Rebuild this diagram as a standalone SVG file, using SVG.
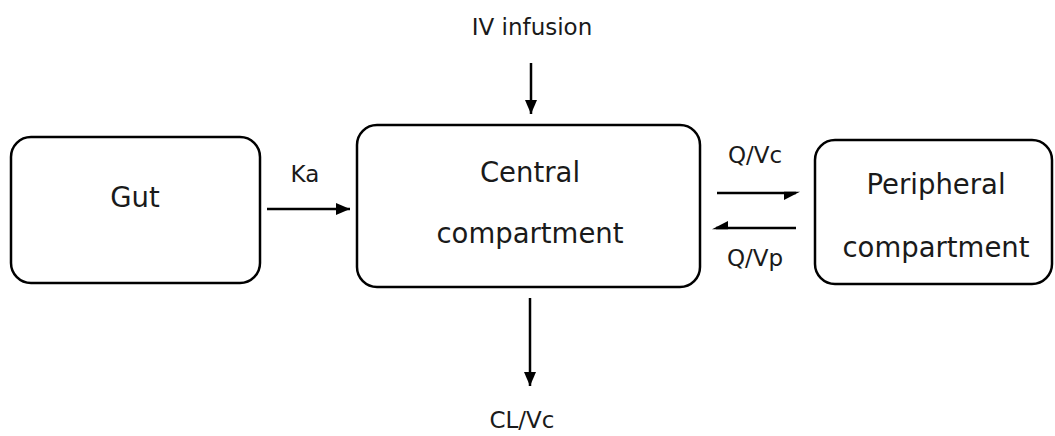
<svg xmlns="http://www.w3.org/2000/svg" width="1055" height="436" viewBox="0 0 1055 436">
<defs>
<style>
.box{fill:#fff;stroke:#000;stroke-width:2.5}
.t{font-family:"DejaVu Sans",sans-serif;font-size:27.5px;fill:#1a1a1a;text-anchor:middle}
.l{font-family:"DejaVu Sans",sans-serif;font-size:23px;fill:#1a1a1a;text-anchor:middle}
.c{stroke:#000;stroke-width:2.5;fill:none}
</style>
<marker id="ah" viewBox="0 0 14 12" refX="14" refY="6" markerWidth="14" markerHeight="12" markerUnits="userSpaceOnUse" orient="auto">
<path d="M0,0 L14,6 L0,12 Z" fill="#000"/>
</marker>
</defs>
<rect width="1055" height="436" fill="#fff"/>
<g id="gut">
<rect class="box" x="11" y="137" width="249" height="146" rx="20"/>
<text class="t" x="135" y="207">Gut</text>
</g>
<g id="central">
<rect class="box" x="357" y="125" width="343" height="162" rx="20"/>
<text class="t" x="530" y="182">Central</text>
<text class="t" x="530" y="243">compartment</text>
</g>
<g id="peripheral">
<rect class="box" x="815" y="140" width="237" height="144" rx="20"/>
<text class="t" x="936" y="194">Peripheral</text>
<text class="t" x="936" y="257">compartment</text>
</g>
<g id="labels">
<text class="l" x="532" y="35">IV infusion</text>
<text class="l" x="305" y="182">Ka</text>
<text class="l" x="755" y="163">Q/Vc</text>
<text class="l" x="755" y="266">Q/Vp</text>
<text class="l" x="522" y="428">CL/Vc</text>
</g>
<g id="connectors">
<line class="c" x1="531" y1="63" x2="531" y2="114" marker-end="url(#ah)"/>
<line class="c" x1="267" y1="209" x2="350" y2="209" marker-end="url(#ah)"/>
<line class="c" x1="530" y1="298" x2="530" y2="386" marker-end="url(#ah)"/>
<line class="c" x1="717" y1="193" x2="796" y2="193"/>
<polygon points="784,191.8 800,191.8 784,200" fill="#000"/>
<line class="c" x1="716" y1="228" x2="796" y2="228"/>
<polygon points="728,229.2 712,229.2 728,221" fill="#000"/>
</g>
</svg>
